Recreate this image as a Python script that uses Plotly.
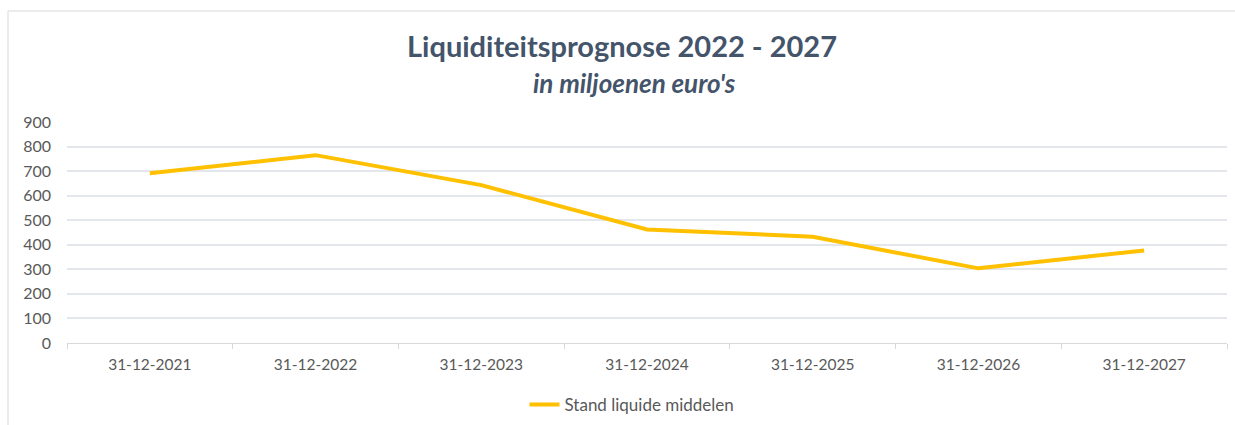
import plotly.graph_objects as go

categories = ["31-12-2021", "31-12-2022", "31-12-2023", "31-12-2024",
              "31-12-2025", "31-12-2026", "31-12-2027"]
liquide_middelen = [691, 765, 643, 462, 433, 304, 377]
y_ticks = [0, 100, 200, 300, 400, 500, 600, 700, 800, 900]
series_name = "Stand liquide middelen"
title_text = "Liquiditeitsprognose 2022 - 2027"
subtitle_text = "in miljoenen euro's"

FONT = "Lato"
fig = go.Figure()
fig.add_trace(go.Scatter(
    x=categories, y=liquide_middelen, mode="lines", name=series_name,
    line=dict(color="#FFC000", width=4, shape="linear"),
))

W, H = 1235, 425
L, R, T, B = 67, 8, 122, 82
pw, ph = W - L - R, H - T - B

def px(x):
    return (x - L) / pw

def py(y):
    return (H - B - y) / ph

fig.update_layout(
    width=W, height=H,
    margin=dict(l=L, r=R, t=T, b=B, autoexpand=False),
    paper_bgcolor="white", plot_bgcolor="white",
    font=dict(family=FONT, color="#595959", size=15),
    showlegend=True,
    legend=dict(orientation="h", x=px(632), xanchor="center", y=py(405),
                yanchor="middle", font=dict(size=17, color="#595959"),
                bgcolor="rgba(0,0,0,0)"),
    xaxis=dict(type="category", range=[-0.5, 6.5], showgrid=False,
               showline=True, linecolor="#D9D9D9", linewidth=1,
               ticks="outside", tickson="boundaries", ticklen=5,
               tickcolor="#D9D9D9", ticklabelstandoff=7,
               tickfont=dict(size=15.5, color="#595959")),
    yaxis=dict(range=[0, 900], tickvals=y_ticks, showgrid=True,
               gridcolor="#E3E6EB", gridwidth=1.5, zeroline=False,
               showline=False, ticks="", ticklabelstandoff=15,
               tickfont=dict(size=16, color="#595959")),
    annotations=[
        dict(text="<b>" + title_text + "</b>", xref="paper", yref="paper",
             x=px(622), y=py(46), xanchor="center", yanchor="middle",
             showarrow=False, font=dict(size=29, color="#44546A", family=FONT)),
        dict(text="<b><i>" + subtitle_text + "</i></b>", xref="paper", yref="paper",
             x=px(634), y=py(83), xanchor="center", yanchor="middle",
             showarrow=False, font=dict(size=26, color="#44546A", family=FONT)),
    ],
    shapes=[
        dict(type="line", xref="paper", yref="paper", x0=px(8), x1=px(8),
             y0=py(11), y1=py(430), line=dict(color="#D9D9D9", width=1)),
        dict(type="line", xref="paper", yref="paper", x0=px(8), x1=px(1240),
             y0=py(11), y1=py(11), line=dict(color="#D9D9D9", width=1)),
    ],
)

fig.write_html("out.html", config={"displayModeBar": False},
               post_script="document.body.style.margin='0';document.body.style.padding='0';")
